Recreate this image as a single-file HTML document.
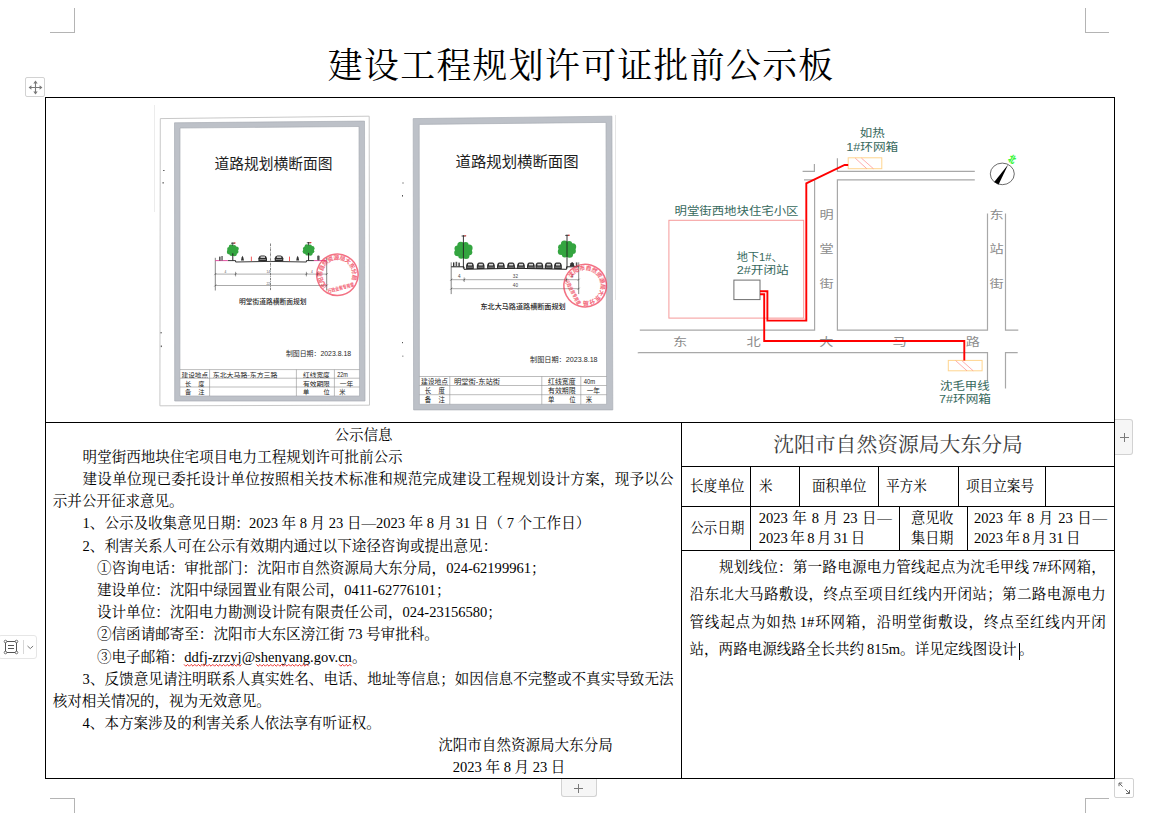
<!DOCTYPE html>
<html lang="zh-CN">
<head>
<meta charset="utf-8">
<title>建设工程规划许可证批前公示板</title>
<style>
html,body{margin:0;padding:0;background:#fff;}
body{width:1159px;height:813px;position:relative;overflow:hidden;
  font-family:"Liberation Serif","Noto Serif CJK SC",serif;color:#000;}
.abs{position:absolute;}
.ln{position:absolute;background:#000;}
.gl{position:absolute;background:#b4b4b4;}
#title{position:absolute;left:0;width:1159px;top:42.8px;height:48px;line-height:48px;text-align:center;
  font-size:34.8px;letter-spacing:1.4px;padding-left:3.4px;box-sizing:border-box;white-space:nowrap;font-weight:400;}
.t{position:absolute;white-space:nowrap;font-size:14.55px;line-height:22px;height:22px;}
.n{margin:0 2.9px;}
.m{margin:0 2.4px;}
.s{margin:0 3.6px;}
.j{text-align:justify;text-align-last:justify;}
.pc{margin-right:-7px;}
.w{}
.sq{display:inline-block;transform-origin:0 50%;transform:scaleX(.935);}
.r{position:absolute;white-space:nowrap;font-size:14.55px;line-height:27px;height:27px;}
.ui{position:absolute;box-sizing:border-box;border:1px solid #d2d2d2;border-radius:2px;background:#fff;}
</style>
</head>
<body>

<!-- page corner crop marks -->
<div class="gl" style="left:50px;top:32px;width:25px;height:1px"></div>
<div class="gl" style="left:74px;top:8px;width:1px;height:25px"></div>
<div class="gl" style="left:1085px;top:32px;width:24px;height:1px"></div>
<div class="gl" style="left:1085px;top:8px;width:1px;height:25px"></div>
<div class="gl" style="left:50px;top:798px;width:25px;height:1px"></div>
<div class="gl" style="left:74px;top:798px;width:1px;height:15px"></div>
<div class="gl" style="left:1085px;top:798px;width:24px;height:1px"></div>
<div class="gl" style="left:1085px;top:798px;width:1px;height:15px"></div>

<div id="title">建设工程规划许可证批前公示板</div>

<!-- table borders -->
<div class="ln" style="left:45px;top:97px;width:1070px;height:1px"></div>
<div class="ln" style="left:45px;top:778px;width:1070px;height:1px"></div>
<div class="ln" style="left:45px;top:97px;width:1px;height:682px"></div>
<div class="ln" style="left:1114px;top:97px;width:1px;height:682px"></div>
<div class="ln" style="left:45px;top:422px;width:1070px;height:1px"></div>
<div class="ln" style="left:681px;top:422px;width:1px;height:357px"></div>
<div class="ln" style="left:681px;top:466px;width:434px;height:1px"></div>
<div class="ln" style="left:681px;top:506px;width:434px;height:1px"></div>
<div class="ln" style="left:681px;top:550px;width:434px;height:1px"></div>
<!-- row 2 verticals -->
<div class="ln" style="left:750px;top:466px;width:1px;height:85px"></div>
<div class="ln" style="left:799px;top:466px;width:1px;height:41px"></div>
<div class="ln" style="left:878px;top:466px;width:1px;height:41px"></div>
<div class="ln" style="left:958px;top:466px;width:1px;height:41px"></div>
<div class="ln" style="left:1045px;top:466px;width:1px;height:41px"></div>
<!-- row 3 verticals -->
<div class="ln" style="left:899px;top:506px;width:1px;height:45px"></div>
<div class="ln" style="left:967px;top:506px;width:1px;height:45px"></div>

<!-- Word UI widgets -->
<div class="ui" style="left:25px;top:77px;width:20px;height:20px">
<svg class="abs" style="left:2px;top:2px" width="15" height="15" viewBox="0 0 15 15"><g fill="none" stroke="#7a7a7a" stroke-width="1.1"><path d="M7.5 1.2V13.8M1.2 7.5H13.8"/></g><path fill="#7a7a7a" d="M5.3 3.4L7.5 .6L9.7 3.4ZM5.3 11.6L7.5 14.4L9.7 11.6ZM3.4 5.3L.6 7.5L3.4 9.7ZM11.6 5.3L14.4 7.5L11.6 9.7Z"/></svg>
</div>
<div class="ui" style="left:1115px;top:419px;width:18px;height:36px;border-left:none;border-radius:0 3px 3px 0;background:#f6f6f6"></div>
<div class="abs" style="left:1120.2px;top:436.5px;width:9px;height:1px;background:#7a7a7a"></div>
<div class="abs" style="left:1124.2px;top:432.5px;width:1px;height:9px;background:#7a7a7a"></div>
<div class="ui" style="left:561px;top:779px;width:36px;height:18px;border-top:none;border-radius:0 0 3px 3px;background:#f6f6f6"></div>
<div class="abs" style="left:574.2px;top:787.5px;width:9px;height:1px;background:#7a7a7a"></div>
<div class="abs" style="left:578.2px;top:783.5px;width:1px;height:9px;background:#7a7a7a"></div>
<div class="ui" style="left:1114px;top:778px;width:20px;height:20px">
<svg class="abs" style="left:0;top:0" width="18" height="18" viewBox="0 0 18 18"><g fill="none" stroke="#6a6a6a" stroke-width="1"><path d="M4 4L7.6 7.6M4 7.2V4H7.2"/><path d="M10.4 10.4L14.5 14.5M14.5 11V14.5H11"/></g></svg>
</div>
<div class="ui" style="left:-2px;top:635px;width:39px;height:24px;border-radius:3px;border-color:#e6e6e6"></div>
<svg class="abs" style="left:3px;top:639px" width="32" height="17" viewBox="0 0 32 17"><g fill="none" stroke="#555" stroke-width="1"><rect x="2.5" y="2.5" width="11" height="11"/><path d="M5 6.5H11M5 9.5H11"/></g><g fill="#fff" stroke="#555" stroke-width=".8"><circle cx="2.5" cy="2.5" r="1.3"/><circle cx="13.5" cy="2.5" r="1.3"/><circle cx="2.5" cy="13.5" r="1.3"/><circle cx="13.5" cy="13.5" r="1.3"/></g><path d="M20.5 1V15" stroke="#d8d8d8" fill="none"/><path d="M24.5 7L27.3 9.6L30.1 7" stroke="#777" fill="none" stroke-width="1"/></svg>

<!-- scanned drawing 1 -->
<svg class="abs" style="left:0;top:0" width="1159" height="813" viewBox="0 0 1159 813" font-family="'Liberation Sans','Noto Sans CJK SC',sans-serif">
<path d="M154.5 105V212" stroke="#ececec" stroke-width="1" fill="none"/>
<path d="M160.3 118.6L369.2 116.2L369.5 405.2L159.9 405.8Z" fill="#fff" stroke="#c2c2c2" stroke-width=".9"/>
<path fill-rule="evenodd" fill="#bdc1c8" d="M174.5 122.8L364.5 121.1L365 401L174.7 401ZM180 128L359 126.5L359.5 396L179.9 396Z"/>
<path fill="none" stroke="#a9adb4" stroke-width=".7" d="M174.5 122.8L364.5 121.1L365 401L174.7 401ZM180 128L359 126.5L359.5 396L179.9 396Z"/>
<text x="214.6" y="168.6" font-size="14.6" fill="#1e1e1e" textLength="118" lengthAdjust="spacingAndGlyphs">道路规划横断面图</text>
<g fill="#444"><rect x="163" y="170" width="1.6" height=".8"/><rect x="162.6" y="182" width="1" height="1.6"/><rect x="160.6" y="332" width="1" height="1.4"/><rect x="160.8" y="345.5" width="1" height="1.6"/></g>
<!-- cross section -->
<g fill="none" stroke="#333" stroke-width=".6">
<path d="M215.3 257.8V290.5M326.7 257.8V290.5"/>
<path d="M270.5 243.5V290.5" stroke-dasharray="2.5 .8 .8 .8"/>
<path d="M215.3 274.1H326.7M215.3 285.5H326.7" stroke="#555" stroke-width=".5"/>
<path d="M235.6 271.8V276.4M306.4 271.8V276.4M317.5 271.8V276.4" stroke-width=".5"/>
<path d="M214.3 275.1L216.3 273.1M234.6 275.1L236.6 273.1M305.4 275.1L307.4 273.1M316.5 275.1L318.5 273.1M325.7 275.1L327.7 273.1M214.3 286.5L216.3 284.5M325.7 286.5L327.7 284.5" stroke-width=".5"/>
<path d="M227.8 260.6H235.6V262L270.5 261.4L306.4 262V260.6H313.9" stroke="#222" stroke-width=".9"/>
<path d="M215.3 260.6H227.8M313.9 260.6H326.7" stroke="#e0409a" stroke-width=".9"/>
</g>
<g font-size="3.2" fill="#555" text-anchor="middle"><text x="225.4" y="273.2">4</text><text x="268.3" y="273.2">14</text><text x="268.3" y="284.6">22</text><text x="312" y="273.2">4</text></g>
<g fill="#34a540"><ellipse cx="232.8" cy="250.4" rx="4.1" ry="4.1"/><circle cx="236.5" cy="251.7" r="2.0"/><circle cx="234.5" cy="253.8" r="2.4"/><circle cx="231.4" cy="253.9" r="2.0"/><circle cx="229.2" cy="252.0" r="2.4"/><circle cx="229.1" cy="249.1" r="2.0"/><circle cx="231.1" cy="247.0" r="2.4"/><circle cx="234.2" cy="246.9" r="2.0"/><circle cx="236.4" cy="248.8" r="2.4"/></g><path d="M232.8 253.3V260.6" stroke="#222" stroke-width="1" fill="none"/><path d="M232.8 242.4V245.7" stroke="#222" stroke-width="0.8" fill="none"/><path d="M231.0 243.2H235.0" stroke="#222" stroke-width="0.8" fill="none"/><rect x="233.8" y="242.5" width="1.8" height="1" fill="#d33"/> <g fill="#34a540"><ellipse cx="308.6" cy="250" rx="4.1" ry="4.1"/><circle cx="312.3" cy="251.3" r="2.0"/><circle cx="310.3" cy="253.4" r="2.4"/><circle cx="307.2" cy="253.5" r="2.0"/><circle cx="305.0" cy="251.6" r="2.4"/><circle cx="304.9" cy="248.7" r="2.0"/><circle cx="306.9" cy="246.6" r="2.4"/><circle cx="310.0" cy="246.5" r="2.0"/><circle cx="312.2" cy="248.4" r="2.4"/></g><path d="M308.6 252.9V260.6" stroke="#222" stroke-width="1" fill="none"/><path d="M308.6 242V245.3" stroke="#222" stroke-width="0.8" fill="none"/><path d="M306.8 242.8H310.8" stroke="#222" stroke-width="0.8" fill="none"/><rect x="309.6" y="242.1" width="1.8" height="1" fill="#d33"/>
<path d="M258.4 261.2v-2.9q0.7 -2.9 2.6 -2.9h3.4q1.9 0 2.6 2.9v2.9z" fill="#2c2c2c"/><rect x="260.5" y="256.4" width="4.5" height="1.5" fill="#d8d8d8"/><rect x="259.6" y="259.1" width="6.2" height="0.8" fill="#999"/> <path d="M274.7 261.2v-2.9q0.7 -2.9 2.6 -2.9h3.4q1.9 0 2.6 2.9v2.9z" fill="#2c2c2c"/><rect x="276.8" y="256.4" width="4.5" height="1.5" fill="#d8d8d8"/><rect x="275.9" y="259.1" width="6.2" height="0.8" fill="#999"/>
<g fill="#333"><path d="M241 260.6l.6-3.2l.9-1.6l.8 1.6l.7 3.2z"/><path d="M296.2 260.6l.6-3.2l.9-1.6l.8 1.6l.7 3.2z"/><rect x="219.2" y="256.6" width="1.3" height="4"/><rect x="221.3" y="256" width="1.5" height="4.6" fill="#666"/><rect x="317.2" y="255.6" width="2.4" height="5" rx="1" fill="#555"/></g>
<g fill="#e33"><rect x="250.9" y="256.6" width=".8" height="4.4"/><rect x="289" y="256.6" width=".8" height="4.4"/></g>
<text x="238.9" y="304.3" font-size="6.75" font-weight="500" fill="#262626" textLength="67.5" lengthAdjust="spacingAndGlyphs">明堂街道路横断面规划</text>
<text x="285.9" y="355.8" font-size="6.3" fill="#2a2a2a" textLength="65.2" lengthAdjust="spacingAndGlyphs">制图日期：2023.8.18</text>
<!-- title block -->
<g fill="none" stroke="#8e8e8e" stroke-width=".6">
<path d="M180 369.6H359.5M180 378.2H359.5M180 387H359.5"/>
<path d="M209.6 369.6V396M296.4 369.6V396M334.4 369.6V396"/>
</g>
<g font-size="6.2" fill="#222" font-weight="400" transform="translate(0 .6)">
<text x="181.6" y="376.3" textLength="26.4" lengthAdjust="spacingAndGlyphs">建设地点</text>
<text x="212.7" y="376.3" textLength="64.8" lengthAdjust="spacingAndGlyphs">东北大马路-东方三路</text>
<text x="303" y="376.3" textLength="26.8" lengthAdjust="spacingAndGlyphs">红线宽度</text>
<text x="337.3" y="376.3" font-size="6.6" textLength="10.6" lengthAdjust="spacingAndGlyphs">22m</text>
<text x="185.1" y="385" textLength="19.3" lengthAdjust="spacing">长 度</text>
<text x="303" y="385" textLength="26.8" lengthAdjust="spacingAndGlyphs">有效期限</text>
<text x="339.8" y="385" textLength="13.4" lengthAdjust="spacingAndGlyphs">一年</text>
<text x="185.1" y="393.8" textLength="19.3" lengthAdjust="spacing">备 注</text>
<text x="303" y="393.8" textLength="26.8" lengthAdjust="spacing">单 位</text>
<text x="339.2" y="393.8">米</text>
</g>
<!-- seal -->
<g transform="rotate(-15 337.4 274.8)" opacity=".68" fill="#ee2f4a">
<circle cx="337.4" cy="274.8" r="20.7" fill="none" stroke="#ee2f4a" stroke-width="1.5"/>
<path id="arc1" d="M325.1 283.4A15.0 15.0 0 1 1 349.7 283.4" fill="none"/>
<text font-size="5.9" font-weight="900"><textPath href="#arc1" textLength="65.4" lengthAdjust="spacing">沈阳市自然资源局大东分局</textPath></text>
<text x="337.4" y="290.2" font-size="5.2" font-weight="900" text-anchor="middle" textLength="27.0" lengthAdjust="spacingAndGlyphs">行政业务专用章</text>
</g>
</svg>
<!-- scanned drawing 2 -->
<svg class="abs" style="left:0;top:0" width="1159" height="813" viewBox="0 0 1159 813" font-family="'Liberation Sans','Noto Sans CJK SC',sans-serif">
<path fill-rule="evenodd" fill="#bdc1c8" d="M413.2 118.6L611.9 116.2L612.8 409.9L413.6 409.9ZM419.2 124.4L606 122.4L606.6 404.3L419.4 404.3Z"/>
<path fill="none" stroke="#a9adb4" stroke-width=".7" d="M413.2 118.6L611.9 116.2L612.8 409.9L413.6 409.9ZM419.2 124.4L606 122.4L606.6 404.3L419.4 404.3Z"/>
<path d="M615.5 115V300" stroke="#e6e6e6" stroke-width="1" fill="none"/>
<text x="455.5" y="166.6" font-size="15.2" fill="#1e1e1e" textLength="123" lengthAdjust="spacingAndGlyphs">道路规划横断面图</text>
<g fill="#555"><rect x="402.4" y="182.5" width="1.2" height="1"/><rect x="402" y="195" width="1" height="1.6"/><rect x="402" y="342" width="1" height="1.2"/><rect x="402.2" y="355.5" width="1.2" height="1.4" fill="#999"/><rect x="637.6" y="352.3" width="1.2" height="1" fill="#bbb"/></g>
<!-- cross section -->
<g fill="none" stroke="#333" stroke-width=".6">
<path d="M451.2 262.3V294.1M578.7 262.3V294.1"/>
<path d="M451.2 279.7H578.7M451.2 288.7H578.7" stroke="#555" stroke-width=".5"/>
<path d="M464.2 277.5V282M566.4 277.5V282" stroke-width=".5"/>
<path d="M450.2 280.7L452.2 278.7M463.2 280.7L465.2 278.7M565.4 280.7L567.4 278.7M577.7 280.7L579.7 278.7M450.2 289.7L452.2 287.7M577.7 289.7L579.7 287.7" stroke-width=".5"/>
<path d="M451.2 266.8H464V269.3L515 268.3L566.6 269.3V266.8H578.7" stroke="#222" stroke-width="1"/>
</g>
<g font-size="4.6" fill="#444" text-anchor="middle"><text x="459.2" y="278.4">4</text><text x="515.4" y="278.4">32</text><text x="515.4" y="286.6">40</text><text x="572" y="278.4">4</text></g>
<g fill="#34a540"><ellipse cx="463.4" cy="250.4" rx="6.5" ry="6.2"/><circle cx="469.3" cy="252.3" r="3.0"/><circle cx="466.0" cy="255.5" r="3.5"/><circle cx="461.2" cy="255.7" r="3.0"/><circle cx="457.7" cy="252.8" r="3.5"/><circle cx="457.5" cy="248.5" r="3.0"/><circle cx="460.8" cy="245.3" r="3.5"/><circle cx="465.6" cy="245.1" r="3.0"/><circle cx="469.1" cy="248.0" r="3.5"/></g><path d="M463.4 235.2V268.5" stroke="#222" stroke-width="0.9" fill="none"/><path d="M461.6 236.0H465.6" stroke="#222" stroke-width="0.8" fill="none"/><rect x="464.4" y="235.3" width="1.8" height="1" fill="#d33"/> <g fill="#34a540"><ellipse cx="567" cy="249.2" rx="6.5" ry="6.2"/><circle cx="572.9" cy="251.1" r="3.0"/><circle cx="569.6" cy="254.3" r="3.5"/><circle cx="564.8" cy="254.5" r="3.0"/><circle cx="561.3" cy="251.6" r="3.5"/><circle cx="561.1" cy="247.3" r="3.0"/><circle cx="564.4" cy="244.1" r="3.5"/><circle cx="569.2" cy="243.9" r="3.0"/><circle cx="572.7" cy="246.8" r="3.5"/></g><path d="M567 234.6V268.5" stroke="#222" stroke-width="0.9" fill="none"/><path d="M565.2 235.4H569.2" stroke="#222" stroke-width="0.8" fill="none"/><rect x="568.0" y="234.7" width="1.8" height="1" fill="#d33"/>
<path d="M466.1 269.0v-3.2q0.6 -3.2 2.3 -3.2h3.1q1.7 0 2.3 3.2v3.2z" fill="#2c2c2c"/><rect x="468.0" y="263.8" width="4.1" height="1.7" fill="#d8d8d8"/><rect x="467.2" y="266.7" width="5.6" height="0.9" fill="#999"/><path d="M476.8 269.0v-3.2q0.6 -3.2 2.3 -3.2h3.1q1.7 0 2.3 3.2v3.2z" fill="#2c2c2c"/><rect x="478.7" y="263.8" width="4.1" height="1.7" fill="#d8d8d8"/><rect x="477.9" y="266.7" width="5.6" height="0.9" fill="#999"/><path d="M487.1 269.0v-3.2q0.6 -3.2 2.3 -3.2h3.1q1.7 0 2.3 3.2v3.2z" fill="#2c2c2c"/><rect x="489.0" y="263.8" width="4.1" height="1.7" fill="#d8d8d8"/><rect x="488.2" y="266.7" width="5.6" height="0.9" fill="#999"/><path d="M497.0 269.0v-3.2q0.6 -3.2 2.3 -3.2h3.1q1.7 0 2.3 3.2v3.2z" fill="#2c2c2c"/><rect x="498.9" y="263.8" width="4.1" height="1.7" fill="#d8d8d8"/><rect x="498.1" y="266.7" width="5.6" height="0.9" fill="#999"/><path d="M507.2 269.0v-3.2q0.6 -3.2 2.3 -3.2h3.1q1.7 0 2.3 3.2v3.2z" fill="#2c2c2c"/><rect x="509.1" y="263.8" width="4.1" height="1.7" fill="#d8d8d8"/><rect x="508.3" y="266.7" width="5.6" height="0.9" fill="#999"/><path d="M517.1 269.0v-3.2q0.6 -3.2 2.3 -3.2h3.1q1.7 0 2.3 3.2v3.2z" fill="#2c2c2c"/><rect x="519.0" y="263.8" width="4.1" height="1.7" fill="#d8d8d8"/><rect x="518.2" y="266.7" width="5.6" height="0.9" fill="#999"/><path d="M527.0 269.0v-3.2q0.6 -3.2 2.3 -3.2h3.1q1.7 0 2.3 3.2v3.2z" fill="#2c2c2c"/><rect x="528.9" y="263.8" width="4.1" height="1.7" fill="#d8d8d8"/><rect x="528.1" y="266.7" width="5.6" height="0.9" fill="#999"/><path d="M535.5 269.0v-3.2q0.6 -3.2 2.3 -3.2h3.1q1.7 0 2.3 3.2v3.2z" fill="#2c2c2c"/><rect x="537.4" y="263.8" width="4.1" height="1.7" fill="#d8d8d8"/><rect x="536.6" y="266.7" width="5.6" height="0.9" fill="#999"/><path d="M544.8 269.0v-3.2q0.6 -3.2 2.3 -3.2h3.1q1.7 0 2.3 3.2v3.2z" fill="#2c2c2c"/><rect x="546.7" y="263.8" width="4.1" height="1.7" fill="#d8d8d8"/><rect x="545.9" y="266.7" width="5.6" height="0.9" fill="#999"/><path d="M554.1 269.0v-3.2q0.6 -3.2 2.3 -3.2h3.1q1.7 0 2.3 3.2v3.2z" fill="#2c2c2c"/><rect x="556.0" y="263.8" width="4.1" height="1.7" fill="#d8d8d8"/><rect x="555.2" y="266.7" width="5.6" height="0.9" fill="#999"/>
<g fill="#333"><rect x="453" y="262.4" width="1.4" height="4.2"/><rect x="455.6" y="261.8" width="1.6" height="4.8" fill="#555"/><rect x="458.4" y="262.6" width="1.4" height="4"/><path d="M569.6 266.6l1-3.4l1.6-1.2l1.4 1.2l1 3.4z"/><rect x="575.8" y="262.4" width="1.6" height="4.2" fill="#555"/></g>
<text x="480.5" y="308.5" font-size="7.1" font-weight="500" fill="#262626" textLength="85.1" lengthAdjust="spacingAndGlyphs">东北大马路道路横断面规划</text>
<text x="530" y="362" font-size="6.5" fill="#2a2a2a" textLength="67.6" lengthAdjust="spacingAndGlyphs">制图日期：2023.8.18</text>
<!-- title block -->
<g fill="none" stroke="#8e8e8e" stroke-width=".6">
<path d="M419.4 376.5H606.6M419.4 385.5H606.6M419.4 394.7H606.6"/>
<path d="M449.8 376.5V404.3M541.8 376.5V404.3M580.8 376.5V404.3"/>
</g>
<g font-size="6.4" fill="#222" font-weight="400" transform="translate(0 .3)">
<text x="420.9" y="384" textLength="27.1" lengthAdjust="spacingAndGlyphs">建设地点</text>
<text x="453.9" y="384" textLength="46.1" lengthAdjust="spacingAndGlyphs">明堂街-东站街</text>
<text x="548" y="384" textLength="27.6" lengthAdjust="spacingAndGlyphs">红线宽度</text>
<text x="583.8" y="384" font-size="6.8" textLength="11.4" lengthAdjust="spacingAndGlyphs">40m</text>
<text x="424.7" y="392.5" textLength="20.3" lengthAdjust="spacing">长 度</text>
<text x="548" y="392.5" textLength="27.6" lengthAdjust="spacingAndGlyphs">有效期限</text>
<text x="586.7" y="392.5" textLength="13.3" lengthAdjust="spacingAndGlyphs">一年</text>
<text x="424.7" y="401.8" textLength="20.3" lengthAdjust="spacing">备 注</text>
<text x="548" y="401.8" textLength="27.6" lengthAdjust="spacing">单 位</text>
<text x="585.7" y="401.8">米</text>
</g>
<!-- seal -->
<g transform="rotate(62 585.2 285.6)" opacity=".68" fill="#ee2f4a">
<circle cx="585.2" cy="285.6" r="21.3" fill="none" stroke="#ee2f4a" stroke-width="1.5"/>
<path id="arc2" d="M572.4 294.5A15.6 15.6 0 1 1 598.0 294.5" fill="none"/>
<text font-size="5.9" font-weight="900"><textPath href="#arc2" textLength="68.1" lengthAdjust="spacing">沈阳市自然资源局大东分局</textPath></text>
<text x="585.2" y="301.6" font-size="5.2" font-weight="900" text-anchor="middle" textLength="27.8" lengthAdjust="spacingAndGlyphs">行政业务专用章</text>
</g>
</svg>

<!-- route map -->
<svg class="abs" style="left:0;top:0" width="1159" height="813" viewBox="0 0 1159 813" font-family="'Liberation Sans','Noto Sans CJK SC',sans-serif">
<g fill="none" stroke="#a8a8a8" stroke-width="1.2">
<path d="M814.4 164V171.3H802.6"/>
<path d="M804 179.8H814.6V330.1H639.8"/>
<path d="M837.4 158.3V171.3H974.8"/>
<path d="M974.8 179.8H837.4V330.1H987.5V213.5"/>
<path d="M1005.5 213.5V330.1H1018.3"/>
<path d="M638.2 352.7H987.5V381"/>
<path d="M1017.7 352.7H1005.5V388.4"/>
</g>
<!-- road names -->
<g fill="#8c8c8c" font-size="11.8" text-anchor="middle">
<text x="826.7" y="219" textLength="14.2" lengthAdjust="spacingAndGlyphs">明</text>
<text x="826.7" y="253.2" textLength="14.2" lengthAdjust="spacingAndGlyphs">堂</text>
<text x="826.7" y="288" textLength="14.2" lengthAdjust="spacingAndGlyphs">街</text>
<text x="996.6" y="218.8" textLength="14.2" lengthAdjust="spacingAndGlyphs">东</text>
<text x="996.6" y="252.9" textLength="14.2" lengthAdjust="spacingAndGlyphs">站</text>
<text x="996.6" y="288" textLength="14.2" lengthAdjust="spacingAndGlyphs">街</text>
<text x="680" y="345.6" textLength="14.2" lengthAdjust="spacingAndGlyphs">东</text>
<text x="753.5" y="345.6" textLength="14.2" lengthAdjust="spacingAndGlyphs">北</text>
<text x="826.4" y="345.6" textLength="14.2" lengthAdjust="spacingAndGlyphs">大</text>
<text x="899.7" y="345.6" textLength="14.2" lengthAdjust="spacingAndGlyphs">马</text>
<text x="972.8" y="345.6" textLength="14.2" lengthAdjust="spacingAndGlyphs">路</text>
</g>
<!-- site boundary -->
<rect x="668.9" y="220.3" width="134.8" height="97.8" fill="none" stroke="#f59a9a" stroke-width="1"/>
<!-- switching station box -->
<rect x="733.9" y="280.1" width="26.1" height="19.5" fill="#fff" stroke="#6e6e6e" stroke-width="1"/>
<!-- ring main unit boxes -->
<g fill="#fff" stroke="#ffd58f" stroke-width="1">
<rect x="848.2" y="157.8" width="33.6" height="10.9"/>
<rect x="948.3" y="360.4" width="33.8" height="10.4"/>
</g>
<g fill="none" stroke="#f88" stroke-width=".7">
<path d="M855.2 158.1L866.8 168.7M861.4 158.1L873.4 168.7"/>
<path d="M955.6 360.6L967 370.8M961.8 360.6L973.2 370.8"/>
</g>
<!-- cable routes -->
<g fill="none" stroke="#ff0000" stroke-width="1.9" stroke-linejoin="miter">
<path d="M848.2 165H844.6L806.3 183.4V320.6H767.4V291.2H760"/>
<path d="M760 294.2H764.2V341H964.3V360.4"/>
</g>
<g stroke="#ffb0b0" stroke-width="1" fill="none"><path d="M768.6 319H805"/></g>
<!-- labels -->
<g fill="#37695d" font-size="10.9">
<text x="674.5" y="214.6" textLength="124" lengthAdjust="spacingAndGlyphs">明堂街西地块住宅小区</text>
<text x="859.8" y="137.3" textLength="25" lengthAdjust="spacingAndGlyphs">如热</text>
<text x="846.2" y="150.6" textLength="52" lengthAdjust="spacingAndGlyphs">1#环网箱</text>
<text x="736.7" y="260.8" textLength="46" lengthAdjust="spacingAndGlyphs">地下1#、</text>
<text x="736.7" y="274.3" textLength="52" lengthAdjust="spacingAndGlyphs">2#开闭站</text>
<text x="940" y="390.3" textLength="49.6" lengthAdjust="spacingAndGlyphs">沈毛甲线</text>
<text x="939" y="403.2" textLength="52" lengthAdjust="spacingAndGlyphs">7#环网箱</text>
</g>
<!-- north arrow -->
<ellipse cx="1002.3" cy="173.9" rx="12" ry="10.8" fill="#fff" stroke="#5a5a5a" stroke-width=".9"/>
<path d="M1008.2 164.4L994.2 182L998.6 184.5Z" fill="#000"/>
<text x="0" y="3.4" font-size="9.5" fill="#35f535" font-weight="900" text-anchor="middle" transform="translate(1012.1 159.3) rotate(30) scale(.72 1)">北</text>
</svg>

<!-- left cell text -->
<div class="t" style="left:46px;width:635px;text-align:center;top:423.7px">公示信息</div>
<div class="t" style="left:82.6px;top:445.9px">明堂街西地块住宅项目电力工程规划许可批前公示</div>
<div class="t j" style="left:82.6px;width:591px;top:468.1px">建设单位现已委托设计单位按照相关技术标准和规范完成建设工程规划设计方案，现予以公</div>
<div class="t" style="left:52.7px;top:490.2px">示并公开征求意见。</div>
<div class="t" style="left:82.6px;top:512.4px">1、公示及收集意见日期：<span class="s" style="margin-left:-1px">2023</span>年<span class="s">8</span>月<span class="s">23</span>日—<span class="s" style="margin-left:0">2023</span>年<span class="s">8</span>月<span class="s">31</span>日（<span class="s">7</span>个工作日）</div>
<div class="t" style="left:82.6px;top:534.6px">2、利害关系人可在公示有效期内通过以下途径咨询或提出意见：</div>
<div class="t" style="left:97px;top:556.8px">①咨询电话：审批部门：沈阳市自然资源局大东分局，024-62199961；</div>
<div class="t" style="left:97px;top:579px">建设单位：沈阳中绿园置业有限公司，0411-62776101；</div>
<div class="t" style="left:97px;top:601.1px">设计单位：沈阳电力勘测设计院有限责任公司，024-23156580；</div>
<div class="t" style="left:97px;top:623.3px">②信函请邮寄至：沈阳市大东区滂江街<span class="s">73</span>号审批科。</div>
<div class="t" style="left:97px;top:645.5px">③电子邮箱：<span class="em"><span class="w">ddfj-zrzyj</span>@<span class="w">shenyang</span>.gov.<span class="w">cn</span></span>。</div>
<div class="t j" style="left:82.6px;width:591px;top:667.7px">3、反馈意见请注明联系人真实姓名、电话、地址等信息；如因信息不完整或不真实导致无法</div>
<div class="t" style="left:52.7px;top:689.9px">核对相关情况的，视为无效意见。</div>
<div class="t" style="left:82.6px;top:712px">4、本方案涉及的利害关系人依法享有听证权。</div>
<div class="t" style="left:438.2px;top:734.2px">沈阳市自然资源局大东分局</div>
<div class="t" style="left:452.8px;top:756.4px"><span class="s" style="margin-left:0">2023</span>年<span class="s">8</span>月<span class="s">23</span>日</div>

<!-- spell-check squiggles -->
<svg class="abs" style="left:0;top:0" width="1159" height="813" viewBox="0 0 1159 813"><g fill="none" stroke="#e8201c" stroke-width=".9"><polyline points="184.0,664.4 185.8,666.2 187.6,664.4 189.4,666.2 191.2,664.4 193.0,666.2 194.8,664.4 196.6,666.2 198.4,664.4 200.2,666.2 202.0,664.4 203.8,666.2 205.6,664.4 207.4,666.2 209.2,664.4 211.0,666.2 212.8,664.4 214.6,666.2 216.4,664.4 218.2,666.2 220.0,664.4 221.8,666.2 223.6,664.4 225.4,666.2 227.2,664.4 229.0,666.2 230.8,664.4 232.6,666.2 234.4,664.4 236.2,666.2 238.0,664.4 239.8,666.2 241.6,664.4"/><polyline points="256.4,664.4 258.2,666.2 260.0,664.4 261.8,666.2 263.6,664.4 265.4,666.2 267.2,664.4 269.0,666.2 270.8,664.4 272.6,666.2 274.4,664.4 276.2,666.2 278.0,664.4 279.8,666.2 281.6,664.4 283.4,666.2 285.2,664.4 287.0,666.2 288.8,664.4 290.6,666.2 292.4,664.4 294.2,666.2 296.0,664.4 297.8,666.2 299.6,664.4 301.4,666.2 303.2,664.4 305.0,666.2 306.8,664.4 308.6,666.2"/><polyline points="339.0,664.4 340.8,666.2 342.6,664.4 344.4,666.2 346.2,664.4 348.0,666.2 349.8,664.4 351.6,666.2"/></g></svg>
<!-- right cell text -->
<div class="abs" style="left:682px;width:432px;top:423px;height:43px;line-height:43px;text-align:center;font-size:20.8px;color:#3c3c3c;white-space:nowrap">沈阳市自然资源局大东分局</div>
<div class="t" style="left:689.5px;top:475px"><span class="sq">长度单位</span></div>
<div class="t" style="left:759px;top:475px"><span class="sq">米</span></div>
<div class="t" style="left:812px;top:475px"><span class="sq">面积单位</span></div>
<div class="t" style="left:886px;top:475px"><span class="sq">平方米</span></div>
<div class="t" style="left:966px;top:475px"><span class="sq">项目立案号</span></div>
<div class="t" style="left:689.5px;top:517px"><span class="sq">公示日期</span></div>
<div class="t j" style="left:758.8px;width:133px;top:507.7px;line-height:20px">2023 年 8 月 23 日—</div>
<div class="t" style="left:758.8px;top:528px;line-height:20px"><span class="m" style="margin-left:0">2023</span>年<span class="m">8</span>月<span class="m">31</span>日</div>
<div class="t" style="left:911px;top:507.7px;line-height:20px"><span class="sq" style="transform:scaleX(.975)">意见收</span></div>
<div class="t" style="left:911px;top:528px;line-height:20px"><span class="sq" style="transform:scaleX(.975)">集日期</span></div>
<div class="t j" style="left:974px;width:133px;top:507.7px;line-height:20px">2023 年 8 月 23 日—</div>
<div class="t" style="left:974px;top:528px;line-height:20px"><span class="m" style="margin-left:0">2023</span>年<span class="m">8</span>月<span class="m">31</span>日</div>
<div class="r j" style="left:718.9px;width:387px;top:553.9px">规划线位：第一路电源电力管线起点为沈毛甲线<span class="n" style="margin-right:0">7#</span>环网箱，</div>
<div class="r j" style="left:689.5px;width:416.4px;top:581.3px">沿东北大马路敷设，终点至项目红线内开闭站；第二路电源电力</div>
<div class="r j" style="left:689.5px;width:416.4px;top:608.8px">管线起点为如热<span class="n" style="margin-right:0">1#</span>环网箱，沿明堂街敷设，终点至红线内开闭</div>
<div class="r" style="left:689.5px;top:636.3px">站，两路电源线路全长共约<span class="n" style="margin-right:0">815m</span>。详见定线图设计<span style="margin-left:2.5px">。</span></div>
<div class="ln" style="left:1018.5px;top:643px;width:1.5px;height:17px"></div>


</body>
</html>
